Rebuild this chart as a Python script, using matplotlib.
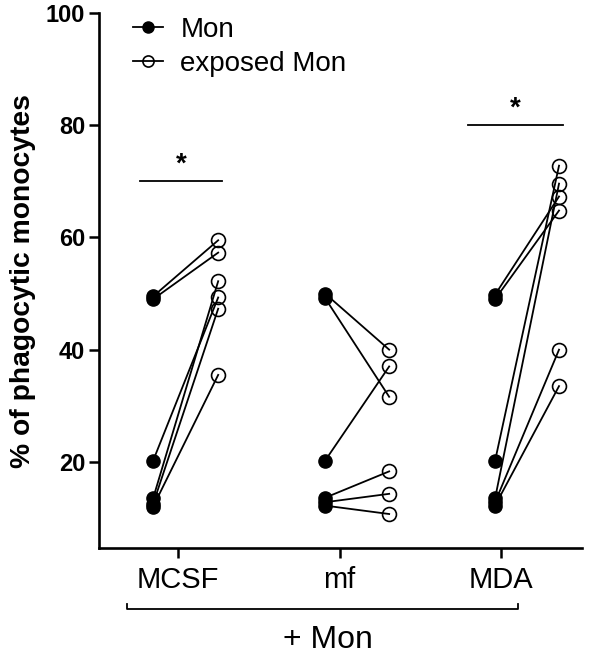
import numpy as np
import matplotlib
matplotlib.use("Agg")
import matplotlib.pyplot as plt
from matplotlib.lines import Line2D

plt.rcParams['font.family'] = ['Liberation Sans', 'DejaVu Sans']

# data
groups = ['MCSF', 'mf', 'MDA']
mon = {
    'MCSF': [49.5, 49.0, 20.2, 13.5, 12.5, 12.0],
    'mf':   [50.0, 49.2, 20.2, 13.6, 12.8, 12.2],
    'MDA':  [49.8, 49.0, 20.2, 13.5, 12.8, 12.2],
}
exposed = {
    'MCSF': [59.5, 57.3, 49.3, 52.2, 47.3, 35.5],
    'mf':   [40.0, 31.6, 37.0, 18.3, 14.3, 10.7],
    'MDA':  [67.3, 64.8, 72.8, 69.6, 40.0, 33.5],
}
yticks = [20, 40, 60, 80, 100]

# layout: x position of each column of points around the group tick
tick_x = [0, 1, 2]
mon_x = [-0.155, 0.91, 1.963]
exp_x = [0.248, 1.307, 2.359]

fig = plt.figure(figsize=(6.15, 6.55), dpi=100)
ax = fig.add_axes([0.161, 0.163, 0.785, 0.817])

for i, g in enumerate(groups):
    for a, b in zip(mon[g], exposed[g]):
        ax.plot([mon_x[i], exp_x[i]], [a, b], color='black', lw=1.3, zorder=2)
    ax.plot([mon_x[i]] * len(mon[g]), mon[g], 'o', ms=9.5, color='black', zorder=3)
    ax.plot([exp_x[i]] * len(exposed[g]), exposed[g], 'o', ms=10, mfc='none',
            mec='black', mew=1.2, zorder=3)

# significance bars
ax.plot([-0.235, 0.272], [70, 70], color='black', lw=1.3)
ax.text(0.02, 70.6, '*', ha='center', va='bottom', fontsize=20, fontweight='bold')
ax.plot([1.796, 2.384], [80, 80], color='black', lw=1.3)
ax.text(2.09, 80.6, '*', ha='center', va='bottom', fontsize=20, fontweight='bold')

ax.set_xlim(-0.49, 2.5)
ax.set_ylim(4.6, 100)
ax.set_yticks(yticks)
ax.set_yticklabels([str(t) for t in yticks], fontsize=17, fontweight='bold')
ax.set_xticks(tick_x)
ax.set_xticklabels(groups, fontsize=21)
ax.tick_params(axis='both', direction='out', length=7, width=1.8, pad=3)
ax.tick_params(axis='x', pad=6)
for s in ['top', 'right']:
    ax.spines[s].set_visible(False)
for s in ['left', 'bottom']:
    ax.spines[s].set_linewidth(1.9)

ax.set_ylabel('% of phagocytic monocytes', fontsize=20.3, fontweight='bold', labelpad=7)

handles = [
    Line2D([], [], color='black', lw=1.3, marker='o', ms=8),
    Line2D([], [], color='black', lw=1.3, marker='o', ms=8, mfc='none', mew=1.2),
]
ax.legend(handles, ['Mon', 'exposed Mon'], loc='upper left', bbox_to_anchor=(0.019, 1.04),
          frameon=False, fontsize=20, handlelength=1.08, handletextpad=0.62, labelspacing=0.3)

# "+ Mon" bracket under the axis
trans = ax.get_xaxis_transform()
yb, yt = -0.113, -0.105
ax.plot([-0.316, -0.316, 2.105, 2.105], [yt, yb, yb, yt], color='black', lw=1.3,
        transform=trans, clip_on=False)
ax.text(0.93, -0.172, '+ Mon', transform=trans, ha='center', va='center', fontsize=23)

fig.savefig('out.png', dpi=100)
